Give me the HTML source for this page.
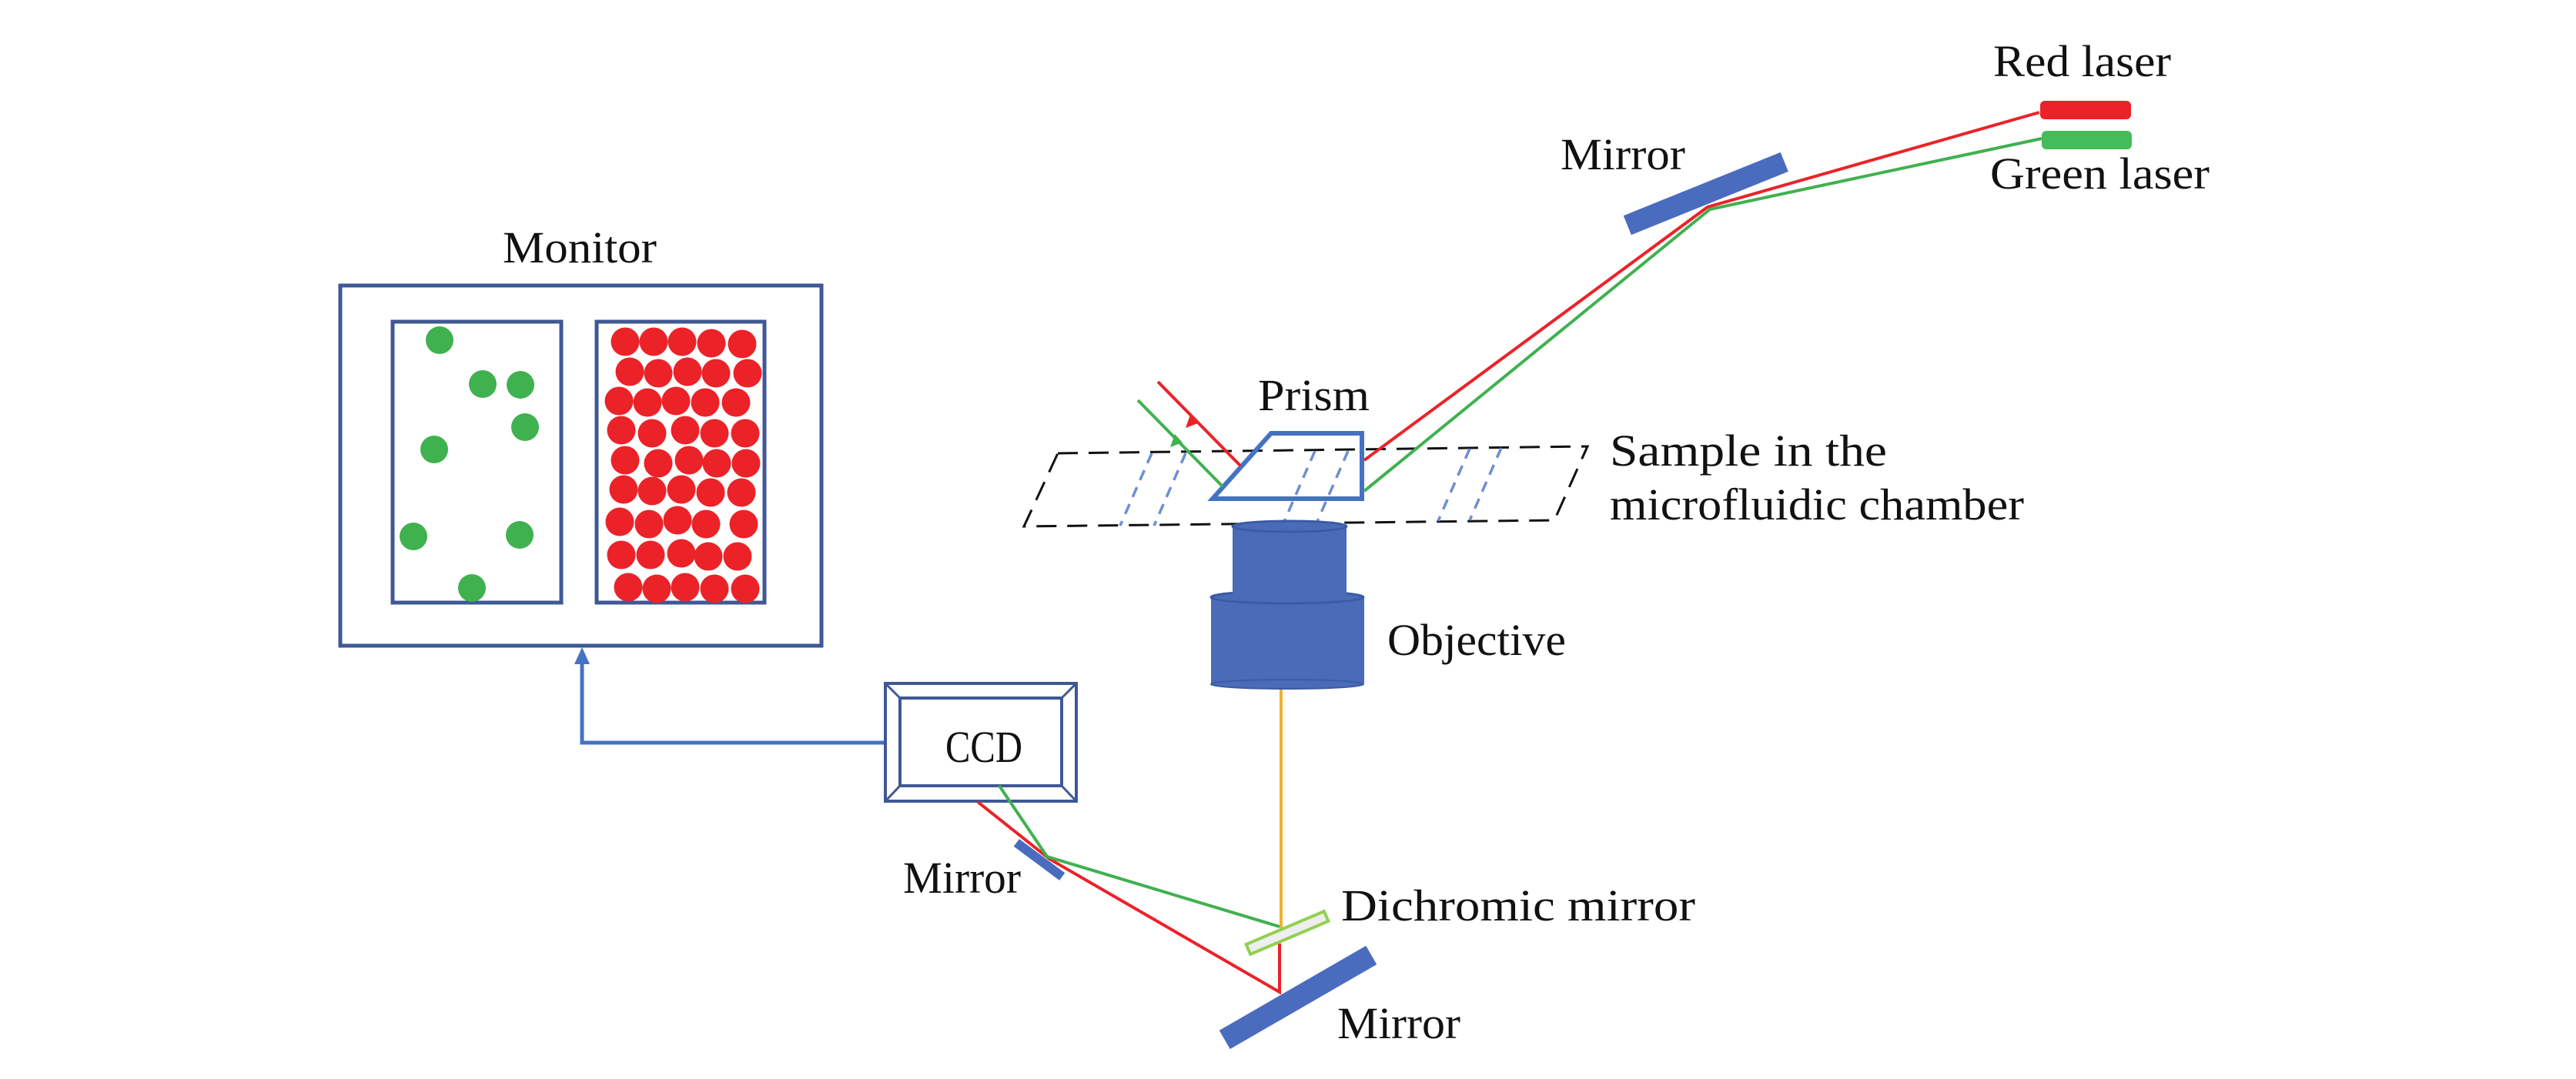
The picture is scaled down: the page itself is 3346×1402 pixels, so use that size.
<!DOCTYPE html>
<html><head><meta charset="utf-8"><style>html,body{margin:0;padding:0;background:#fff}svg{display:block}text{font-family:"Liberation Serif",serif;font-size:58px;fill:#111}</style></head><body>
<svg width="3346" height="1402" viewBox="0 0 3346 1402" xmlns="http://www.w3.org/2000/svg">
<!-- Monitor -->
<text x="653" y="341" textLength="200" lengthAdjust="spacingAndGlyphs">Monitor</text>
<rect x="442" y="371" width="625" height="468" fill="none" stroke="#3F5895" stroke-width="5"/>
<rect x="510" y="418" width="219" height="365" fill="none" stroke="#3F5895" stroke-width="5"/>
<rect x="775" y="418" width="218" height="365" fill="none" stroke="#3F5895" stroke-width="5"/>
<g fill="#3FB14F">
<circle cx="571" cy="442" r="18"/><circle cx="627" cy="499" r="18"/><circle cx="676" cy="500" r="18"/><circle cx="682" cy="555" r="18"/><circle cx="564" cy="584" r="18"/><circle cx="537" cy="697" r="18"/><circle cx="675" cy="695" r="18"/><circle cx="613" cy="764" r="18"/>
</g>
<g fill="#EC2229">
<circle cx="812" cy="444" r="18.5"/><circle cx="849" cy="444" r="18.5"/><circle cx="886" cy="444" r="18.5"/><circle cx="924" cy="446" r="18.5"/><circle cx="964" cy="447" r="18.5"/>
<circle cx="818" cy="483" r="18.5"/><circle cx="855" cy="485" r="18.5"/><circle cx="893" cy="483" r="18.5"/><circle cx="930" cy="485" r="18.5"/><circle cx="971" cy="485" r="18.5"/>
<circle cx="804" cy="521" r="18.5"/><circle cx="841" cy="523" r="18.5"/><circle cx="878" cy="521" r="18.5"/><circle cx="916" cy="523" r="18.5"/><circle cx="956" cy="523" r="18.5"/>
<circle cx="807" cy="559" r="18.5"/><circle cx="847" cy="563" r="18.5"/><circle cx="890" cy="559" r="18.5"/><circle cx="928" cy="563" r="18.5"/><circle cx="968" cy="563" r="18.5"/>
<circle cx="812" cy="598" r="18.5"/><circle cx="855" cy="602" r="18.5"/><circle cx="895" cy="598" r="18.5"/><circle cx="931" cy="602" r="18.5"/><circle cx="969" cy="602" r="18.5"/>
<circle cx="810" cy="636" r="18.5"/><circle cx="847" cy="638" r="18.5"/><circle cx="885" cy="636" r="18.5"/><circle cx="923" cy="640" r="18.5"/><circle cx="963" cy="640" r="18.5"/>
<circle cx="805" cy="678" r="18.5"/><circle cx="843" cy="681" r="18.5"/><circle cx="880" cy="676" r="18.5"/><circle cx="917" cy="681" r="18.5"/><circle cx="966" cy="681" r="18.5"/>
<circle cx="807" cy="721" r="18.5"/><circle cx="845" cy="721" r="18.5"/><circle cx="885" cy="719" r="18.5"/><circle cx="920" cy="723" r="18.5"/><circle cx="958" cy="723" r="18.5"/>
<circle cx="816" cy="763" r="18.5"/><circle cx="853" cy="765" r="18.5"/><circle cx="890" cy="763" r="18.5"/><circle cx="928" cy="765" r="18.5"/><circle cx="968" cy="765" r="18.5"/>
</g>
<!-- connector CCD -> monitor -->
<polyline points="1150,965 756,965 756,860" fill="none" stroke="#4472C4" stroke-width="5"/>
<polygon points="756,841 746,863 766,863" fill="#4472C4"/>
<!-- CCD -->
<rect x="1150" y="888" width="248" height="153" fill="#fff" stroke="#3F5895" stroke-width="4"/>
<rect x="1169" y="907" width="210" height="114" fill="none" stroke="#3F5895" stroke-width="4"/>
<g stroke="#3F5895" stroke-width="3"><line x1="1150" y1="888" x2="1169" y2="907"/><line x1="1398" y1="888" x2="1379" y2="907"/><line x1="1150" y1="1041" x2="1169" y2="1021"/><line x1="1398" y1="1041" x2="1379" y2="1021"/></g>
<text x="1228" y="990" textLength="100" lengthAdjust="spacingAndGlyphs">CCD</text>
<!-- lower beams -->
<line x1="1664" y1="893" x2="1664" y2="1210" stroke="#F0B030" stroke-width="4"/>
<polyline points="1662,1226 1662,1289 1363,1116 1270,1042" fill="none" stroke="#EC2229" stroke-width="4"/>
<polyline points="1662,1204 1360,1113 1298,1021" fill="none" stroke="#3FB14F" stroke-width="4"/>
<rect x="1313" y="1111" width="74" height="12" fill="#4A6CBF" transform="rotate(36.7 1350 1117)"/>
<rect x="1617" y="1205" width="110" height="14" fill="#EEEEEE" stroke="#92D050" stroke-width="4" transform="rotate(-23 1672 1212)"/>
<rect x="1576" y="1282" width="220" height="28" fill="#4A6CBF" transform="rotate(-30 1686 1296)"/>
<text x="1173" y="1160" textLength="153" lengthAdjust="spacingAndGlyphs">Mirror</text>
<text x="1742" y="1196" textLength="460" lengthAdjust="spacingAndGlyphs">Dichromic mirror</text>
<text x="1737" y="1349" textLength="160" lengthAdjust="spacingAndGlyphs">Mirror</text>
<!-- sample chamber -->
<polygon points="1374,589 2062,580 2019,676 1330,684" fill="none" stroke="#111" stroke-width="3" stroke-dasharray="26,14"/>
<g stroke="#6F8FCF" stroke-width="3.5" stroke-dasharray="14,10">
<line x1="1496" y1="589" x2="1455" y2="683"/><line x1="1540" y1="589" x2="1499" y2="683"/>
<line x1="1708" y1="586" x2="1667" y2="680"/><line x1="1751" y1="586" x2="1710" y2="680"/>
<line x1="1909" y1="583" x2="1868" y2="677"/><line x1="1950" y1="582" x2="1909" y2="676"/>
</g>
<!-- prism -->
<polygon points="1651,563 1769,563 1769,648 1575,648" fill="none" stroke="#4472C4" stroke-width="6"/>
<text x="1634" y="533" textLength="145" lengthAdjust="spacingAndGlyphs">Prism</text>
<!-- exit beams -->
<line x1="1611" y1="605" x2="1504" y2="496" stroke="#EC2229" stroke-width="4"/>
<polygon points="1546,539 1540,556 1556,550" fill="#EC2229" transform="rotate(0)"/>
<line x1="1588" y1="632" x2="1478" y2="520" stroke="#3FB14F" stroke-width="4"/>
<polygon points="1526,564 1520,581 1536,575" fill="#3FB14F"/>
<!-- incoming beams -->
<polyline points="2649,146 2218,269 1772,598" fill="none" stroke="#EC2229" stroke-width="4"/>
<polyline points="2652,180 2221,272 1772,638" fill="none" stroke="#3FB14F" stroke-width="4"/>
<!-- top mirror -->
<rect x="2106" y="238" width="220" height="27" fill="#4A6CBF" transform="rotate(-22 2216 252)"/>
<!-- lasers -->
<rect x="2650" y="131" width="118" height="24" rx="6" fill="#EC2229"/>
<rect x="2652" y="170" width="117" height="24" rx="6" fill="#45BC5A"/>
<text x="2589" y="99" textLength="231" lengthAdjust="spacingAndGlyphs">Red laser</text>
<text x="2585" y="245" textLength="285" lengthAdjust="spacingAndGlyphs">Green laser</text>
<text x="2027" y="220" textLength="162" lengthAdjust="spacingAndGlyphs">Mirror</text>
<text x="2091" y="605" textLength="360" lengthAdjust="spacingAndGlyphs">Sample in the</text>
<text x="2091" y="675" textLength="538" lengthAdjust="spacingAndGlyphs">microfluidic chamber</text>
<!-- objective -->
<rect x="1573" y="776" width="199" height="113" fill="#4A6CB8"/>
<ellipse cx="1672" cy="889" rx="99" ry="6" fill="#4A6CB8" stroke="#3B5BA5" stroke-width="2"/>
<ellipse cx="1672" cy="776" rx="99" ry="8" fill="#4A6CB8" stroke="#3B5BA5" stroke-width="3"/>
<rect x="1601" y="684" width="148" height="90" fill="#4A6CB8"/>
<ellipse cx="1675" cy="684" rx="74" ry="7" fill="#4A6CB8" stroke="#3B5BA5" stroke-width="3"/>
<text x="1802" y="851" textLength="232" lengthAdjust="spacingAndGlyphs">Objective</text>
</svg>
</body></html>
